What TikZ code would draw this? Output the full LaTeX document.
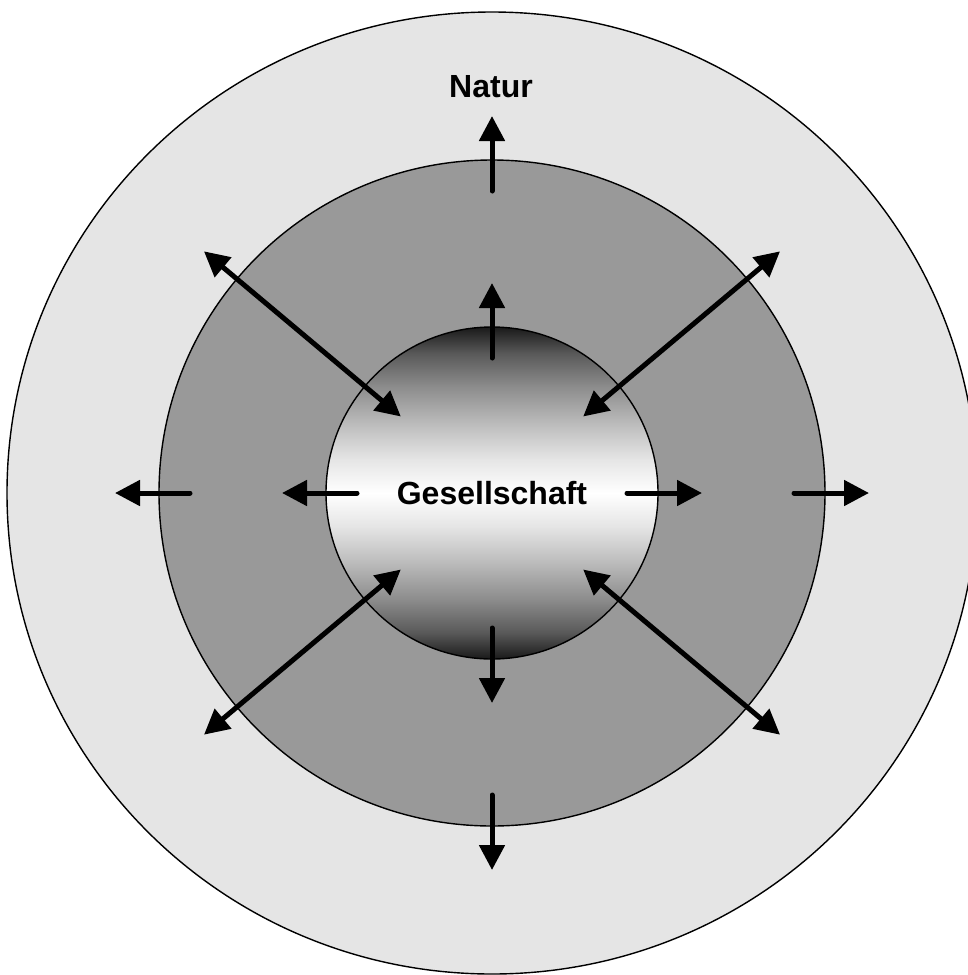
\documentclass[tikz,border=0pt]{standalone}
\usepackage{fontspec}
\setmainfont{Liberation Sans}
\usetikzlibrary{arrows.meta}

% Verlauf fuer den inneren Kreis (Pfad liegt zwischen 25bp und 75bp)
\pgfdeclareverticalshading{kugel}{100bp}{color(0bp)=(black!90); color(25bp)=(black!90); color(29bp)=(black!65); color(34bp)=(black!45); color(40bp)=(black!25); color(45bp)=(black!10); color(50bp)=(white); color(55bp)=(black!10); color(60bp)=(black!25); color(66bp)=(black!45); color(71bp)=(black!65); color(75bp)=(black!90); color(100bp)=(black!90)}

\begin{document}
\begin{tikzpicture}[x=1pt, y=-1pt,
  every node/.style={font=\fontsize{32}{38}\selectfont\bfseries},
  kreis/.style={draw=black, line width=1.4pt},
  pfeil/.style={line width=5pt, line cap=round, -{Triangle[length=25pt,width=25pt]}},
  doppelpfeil/.style={pfeil, {Triangle[length=25pt,width=25pt]}-{Triangle[length=25pt,width=25pt]}}]
  \useasboundingbox (0,0) rectangle (968,975);

  \coordinate (M) at (492,493);

  % Kreise
  \draw[kreis, fill=black!10] (M) ellipse [x radius=485pt, y radius=481pt];
  \draw[kreis, fill=black!40] (M) circle (333pt);
  \shade[shading=kugel] (M) circle (166pt);
  \draw[kreis] (M) circle (166pt);

  % gerade Pfeile
  \foreach \w in {0,90,180,270} {
    \coordinate (a\w) at ([shift={(\w:135pt)}]M);
    \coordinate (b\w) at ([shift={(\w:210pt)}]M);
    \coordinate (c\w) at ([shift={(\w:302pt)}]M);
    \coordinate (d\w) at ([shift={(\w:377pt)}]M);
    \draw[pfeil] (a\w) -- (b\w);
    \draw[pfeil] (c\w) -- (d\w);
  }

  % schraege Doppelpfeile
  \foreach \w in {40,140,220,320} {
    \coordinate (e\w) at ([shift={(\w:119pt)}]M);
    \coordinate (f\w) at ([shift={(\w:376pt)}]M);
    \draw[doppelpfeil] (e\w) -- (f\w);
  }

  % Beschriftung
  \node (natur) at (491,87) {Natur};
  \node (gesellschaft) at (M) {Gesellschaft};
\end{tikzpicture}
\end{document}
